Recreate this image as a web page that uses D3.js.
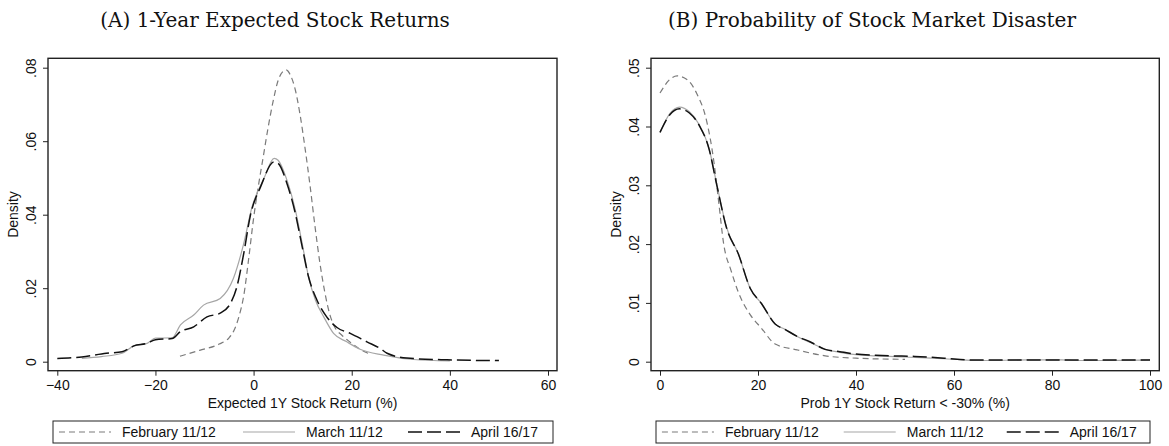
<!DOCTYPE html>
<html>
<head>
<meta charset="utf-8">
<title>Density of expected returns</title>
<script src="https://d3js.org/d3.v7.min.js"></script>
<style>
  body { margin: 0; background: #fff; }
  text { font-family: "Liberation Sans", Arial, sans-serif; fill: #111; }
  .title { font-family: "DejaVu Serif", "Liberation Serif", serif; font-size: 20px; }
</style>
</head>
<body>
<svg id="chart" width="1169" height="446"></svg>
<script>
// series names (legend order)
var seriesNames = ["February 11/12", "March 11/12", "April 16/17"];

// panel A: expected 1Y stock return (%) -> density
var febA = [[-15,0.0015],[-11,0.0031],[-7,0.0048],[-5,0.0065],[-4,0.0085],[-3,0.0122],[-2,0.018],[-1,0.028],
  [0,0.039],[1,0.048],[2,0.056],[3,0.064],[4,0.071],[5,0.0765],[6,0.079],[6.6,0.0794],[7.5,0.078],[8.5,0.074],
  [9.5,0.067],[10.5,0.058],[11.5,0.048],[12.5,0.037],[13.5,0.027],[14.5,0.019],[15.5,0.013],[16.5,0.0095],
  [18,0.0072],[19.5,0.0055],[21.7,0.0034],[24,0.0019]];
var marA = [[-35,0.0009],[-31,0.0014],[-26.8,0.0023],[-24.4,0.0043],[-21.7,0.005],[-20,0.0064],[-16.6,0.0065],
  [-14.9,0.0100],[-12.2,0.0127],[-10.2,0.0154],[-6.8,0.0172],[-4.1,0.0227],[-2,0.0322],[-0.3,0.0422],[2,0.0495],
  [4.2,0.0553],[5,0.0548],[6.8,0.0494],[8.5,0.0413],[9.9,0.0322],[11.2,0.0231],[12.6,0.0168],[14.3,0.0122],
  [16.3,0.0077],[19,0.0054],[21.7,0.0034],[26.5,0.0018],[32.6,0.0006],[40,0.0002]];
var aprA = [[-40,0.0009],[-35,0.0013],[-30,0.0023],[-26.8,0.0027],[-24.4,0.0043],[-21.7,0.005],[-20,0.006],
  [-16.6,0.0063],[-14.9,0.0082],[-12.2,0.0095],[-9.5,0.0122],[-6.8,0.0132],[-4.7,0.0159],[-3.4,0.0204],
  [-2,0.0295],[-0.7,0.0395],[1.4,0.0475],[4.2,0.0544],[5,0.054],[6.8,0.0485],[8.5,0.0404],[9.9,0.0313],
  [11.2,0.0231],[12.9,0.0168],[14.9,0.0122],[17,0.0093],[19.7,0.0077],[23.1,0.0054],[25.8,0.0036],
  [27.2,0.0023],[31.2,0.0010],[39.4,0.0005],[50,0.0003]];

// panel B: prob 1Y stock return < -30% (%) -> density
var febB = [[0,0.0457],[2,0.048],[3.5,0.0486],[5.5,0.048],[7.5,0.0456],[9.5,0.041],[11,0.034],[12,0.027],
  [13,0.02],[14.5,0.0155],[16,0.0118],[18.4,0.008],[20.7,0.0057],[23.5,0.003],[28,0.002],[33.7,0.001],
  [40,0.0006],[50,0.0004]];
var marB = [[0,0.039],[2,0.0422],[4,0.0433],[6,0.0425],[8,0.0403],[10,0.0363],[11.6,0.0301],[13.6,0.0228],
  [16,0.0183],[18.4,0.0125],[20.7,0.0099],[23.5,0.0064],[25.5,0.0055],[28,0.0043],[30.6,0.0033],[33.7,0.0021],
  [36.7,0.0016],[40,0.0012],[44,0.001],[50,0.0008],[56,0.0006],[62,0.0003],[66,0.0002],[75,0.0003],
  [82,0.0003],[85,0.0002],[90,0.0002],[100,0.0003]];
var aprB = [[0,0.039],[2,0.042],[4,0.043],[6,0.0423],[8,0.0402],[10,0.0362],[11.6,0.03],[13.6,0.0227],
  [16,0.0183],[18.4,0.0125],[20.7,0.0099],[23.5,0.0064],[25.5,0.0055],[28,0.0043],[30.6,0.0034],[33.7,0.0021],
  [36.7,0.0017],[40,0.0013],[44,0.0011],[47,0.001],[52,0.0009],[58,0.0006],[64,0.0003],[70,0.0003],
  [80,0.0003],[90,0.0003],[100,0.0003]];

var ticksXA = [-40, -20, 0, 20, 40, 60];
var ticksYA = [0, 0.02, 0.04, 0.06, 0.08];
var ticksXB = [0, 20, 40, 60, 80, 100];
var ticksYB = [0, 0.01, 0.02, 0.03, 0.04, 0.05];

var estilos = [
  {color: "#7a7a7a", dash: "6,4", width: 1.2},
  {color: "#a6a6a6", dash: null, width: 1.2},
  {color: "#111", dash: "14,5", width: 1.5}
];

var svg = d3.select("#chart");

function panel(p) {
  var x = d3.scaleLinear().domain(p.xDom).range(p.xRange);
  var y = d3.scaleLinear().domain(p.yDom).range([361.7, 67.7]);
  var g = svg.append("g");

  // titulo
  svg.append("text").attr("class", "title")
    .attr("x", p.titleX).attr("y", 27).attr("text-anchor", "middle").text(p.title);

  // marco
  g.append("rect")
    .attr("x", p.frame[0]).attr("y", 58.3)
    .attr("width", p.frame[1] - p.frame[0]).attr("height", 370.7 - 58.3)
    .attr("fill", "none").attr("stroke", "#222").attr("stroke-width", 1.4);

  // ejes
  var ax = g.append("g").attr("transform", "translate(0,370.7)")
    .call(d3.axisBottom(x).tickValues(p.ticksX).tickSize(5).tickPadding(4).tickFormat(d3.format("d")));
  ax.select(".domain").remove();
  ax.selectAll("line").attr("stroke", "#222");
  ax.selectAll("text").attr("font-size", 14).attr("dy", 0).attr("y", 19);

  var ay = g.append("g").attr("transform", "translate(" + p.frame[0] + ",0)")
    .call(d3.axisLeft(y).tickValues(p.ticksY).tickSize(5)
      .tickFormat(function(d) { return d === 0 ? "0" : d.toFixed(2).replace(/^0/, ""); }));
  ay.select(".domain").remove();
  ay.selectAll("line").attr("stroke", "#222");
  ay.selectAll("text").attr("font-size", 14).attr("x", null).attr("dy", null)
    .attr("text-anchor", "middle").attr("transform", "translate(-12,0) rotate(-90)");

  // etiquetas de ejes
  var midX = (p.frame[0] + p.frame[1]) / 2;
  svg.append("text").attr("x", midX).attr("y", 408).attr("text-anchor", "middle")
    .attr("font-size", 14).text(p.xLabel);
  svg.append("text").attr("font-size", 14).attr("text-anchor", "middle")
    .attr("transform", "translate(" + (p.frame[0] - 30) + ",214.5) rotate(-90)").text("Density");

  // curvas
  var linea = d3.line().x(function(d) { return x(d[0]); }).y(function(d) { return y(d[1]); })
    .curve(d3.curveMonotoneX);
  p.series.forEach(function(s, i) {
    g.append("path").attr("d", linea(s)).attr("fill", "none")
      .attr("stroke", estilos[i].color).attr("stroke-width", estilos[i].width)
      .attr("stroke-dasharray", estilos[i].dash);
  });

  // leyenda
  var lx = p.frame[0] + 5, lw = p.legendW;
  var leg = svg.append("g");
  leg.append("rect").attr("x", lx).attr("y", 421).attr("width", lw).attr("height", 22)
    .attr("fill", "#fff").attr("stroke", "#222").attr("stroke-width", 1);
  var offs = [6, 190, 355];
  seriesNames.forEach(function(n, i) {
    var sx = lx + offs[i] * lw / 500;
    leg.append("line").attr("x1", sx).attr("x2", sx + 52).attr("y1", 432).attr("y2", 432)
      .attr("stroke", estilos[i].color).attr("stroke-width", estilos[i].width)
      .attr("stroke-dasharray", estilos[i].dash);
    leg.append("text").attr("x", sx + 63).attr("y", 437).attr("font-size", 14).text(n);
  });
}

panel({
  title: "(A) 1-Year Expected Stock Returns", titleX: 275,
  xDom: [-40, 60], xRange: [57.3, 548], yDom: [0, 0.08], frame: [48, 557],
  ticksX: ticksXA, ticksY: ticksYA, xLabel: "Expected 1Y Stock Return (%)",
  series: [febA, marA, aprA], legendW: 500
});
panel({
  title: "(B) Probability of Stock Market Disaster", titleX: 872,
  xDom: [0, 100], xRange: [660, 1150], yDom: [0, 0.05], frame: [651, 1159.3],
  ticksX: ticksXB, ticksY: ticksYB, xLabel: "Prob 1Y Stock Return < -30% (%)",
  series: [febB, marB, aprB], legendW: 494
});
</script>
</body>
</html>
